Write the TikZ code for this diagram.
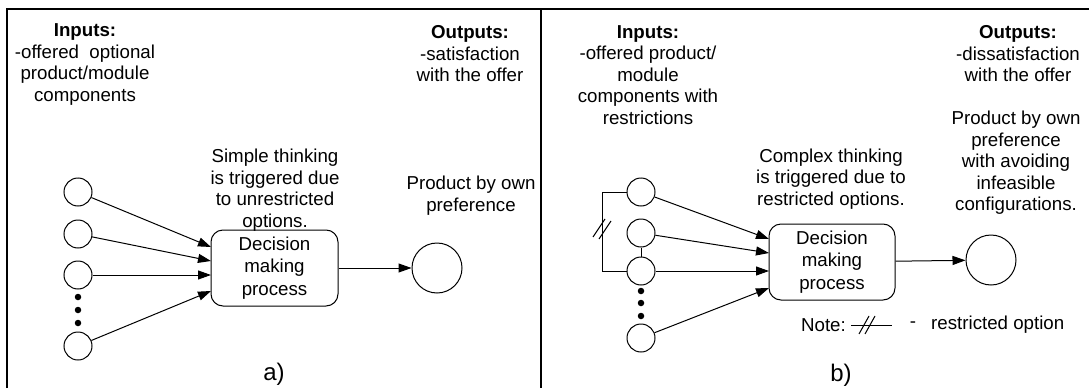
\documentclass[tikz,border=0pt]{standalone}
\usepackage{fontspec}
\setmainfont{Liberation Sans}
\usetikzlibrary{arrows.meta}

\tikzset{
  txt/.style={align=center, inner sep=0pt, font=\fontsize{18.7}{21.5}\selectfont},
  bigtxt/.style={inner sep=0pt, font=\fontsize{24}{28}\selectfont},
  opt/.style={circle, draw, line width=1pt, minimum size=28pt, inner sep=0pt},
  res/.style={circle, draw, line width=1pt, minimum size=50pt, inner sep=0pt},
  dot/.style={circle, fill, minimum size=6.5pt, inner sep=0pt},
  proc/.style={draw, line width=1pt, rounded corners=12pt, align=center,
    inner sep=0pt, font=\fontsize{18.7}{22.6}\selectfont},
  arr/.style={line width=1pt, -{Triangle[length=13pt,width=9pt]}},
  wire/.style={line width=1pt},
  frame/.style={line width=1.6pt}
}

\begin{document}
\begin{tikzpicture}[x=1pt,y=-1pt]
\useasboundingbox (0,0) rectangle (1089,388);

% panel frames
\draw[frame] (7,388) -- (7,9) -- (1089,9);
\draw[frame] (541,9) -- (541,388);

% ---------- a) unrestricted options ----------
\node[txt] (inA) at (85,64.5) {\textbf{Inputs:}\\-offered\ \ optional\\product/module\\components};
\node[txt] (outA) at (470,54) {\textbf{Outputs:}\\-satisfaction\\with the offer};
\node[txt] (thinkA) at (275,190) {Simple thinking\\is triggered due\\to unrestricted\\options.};
\node[txt] (prodA) at (471,195.5) {Product by own\\preference};

\node[proc, minimum width=127pt, minimum height=76pt] (procA) at (274.5,268) {Decision\\making\\process};

\node[opt] (a1) at (78,192) {};
\node[opt] (a2) at (78,234) {};
\node[opt] (a3) at (78,275) {};
\node[opt] (a4) at (78,346) {};
\node[dot] (ad1) at (78,297) {};
\node[dot] (ad2) at (78,310) {};
\node[dot] (ad3) at (78,323) {};

\coordinate (pa1) at (211,247);
\coordinate (pa2) at (211,261);
\coordinate (pa3) at (211,275);
\coordinate (pa4) at (211,291);
\draw[arr] (a1) -- (pa1);
\draw[arr] (a2) -- (pa2);
\draw[arr] (a3) -- (pa3);
\draw[arr] (a4) -- (pa4);

\node[res] (rA) at (437,268) {};
\draw[arr] (procA) -- (rA);

\node[bigtxt] (labA) at (274,374) {a)};

% ---------- b) restricted options ----------
\node[txt] (inB) at (648,75) {\textbf{Inputs:}\\-offered product/\\module\\components with\\restrictions};
\node[txt] (outB) at (1018,54) {\textbf{Outputs:}\\-dissatisfaction\\with the offer};
\node[txt] (prodB) at (1016,163) {Product by own\\preference\\with avoiding\\infeasible\\configurations.};
\node[txt] (thinkB) at (831,179) {Complex thinking\\is triggered due to\\restricted options.};

\node[proc, minimum width=126pt, minimum height=76pt] (procB) at (832,262) {Decision\\making\\process};

\node[opt] (b1) at (641,192) {};
\node[opt] (b2) at (641,233) {};
\node[opt] (b3) at (641,271) {};
\node[opt] (b4) at (641,338) {};
\node[dot] (bd1) at (641,291) {};
\node[dot] (bd2) at (641,303) {};
\node[dot] (bd3) at (641,316) {};

% restriction between options
\draw[wire] (b2) -- (b3);
\coordinate (k1) at (602,192);
\coordinate (k2) at (602,271);
\draw[wire] (b1.west) -- (k1) -- (k2) -- (b3.west);
\draw[wire] (593,237) -- (605,219);
\draw[wire] (599,239) -- (611,221);

\coordinate (pb1) at (769,239);
\coordinate (pb2) at (769,253);
\coordinate (pb3) at (769,271);
\coordinate (pb4) at (769,288);
\draw[arr] (b1) -- (pb1);
\draw[arr] (b2) -- (pb2);
\draw[arr] (b3) -- (pb3);
\draw[arr] (b4) -- (pb4);

\node[res] (rB) at (991,260) {};
\draw[arr] (procB) -- (rB);

% legend
\node[txt, anchor=east] (noteB) at (846,325) {Note:};
\coordinate (n1) at (851,325);
\coordinate (n2) at (892,325);
\draw[wire] (n1) -- (n2);
\draw[wire] (859,334) -- (869,316);
\draw[wire] (865,334) -- (875,316);
\node[txt] (dashB) at (913,325) {-};
\node[txt, anchor=west] (legB) at (931,325) {restricted option};

\node[bigtxt] (labB) at (841,375) {b)};
\end{tikzpicture}
\end{document}
